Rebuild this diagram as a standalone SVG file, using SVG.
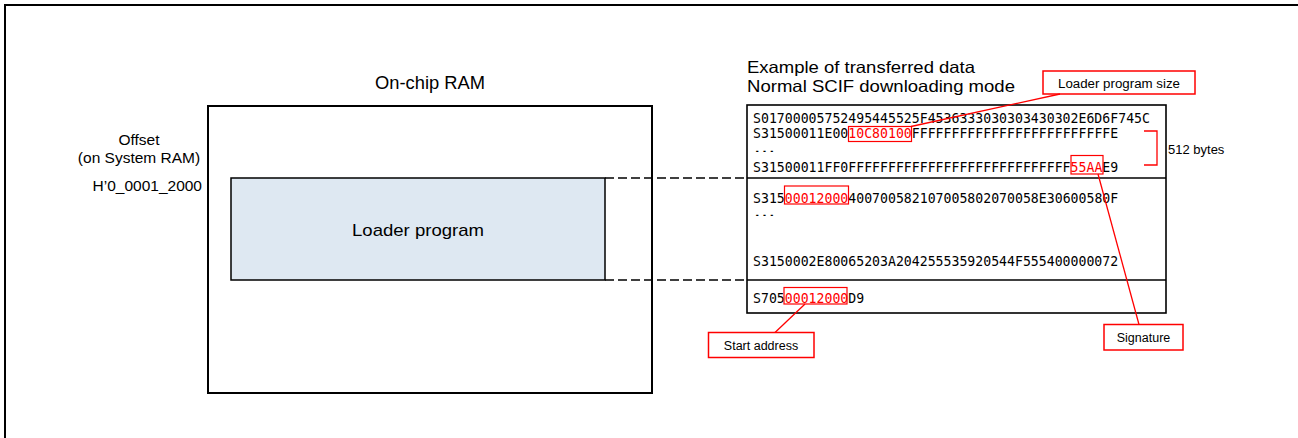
<svg xmlns="http://www.w3.org/2000/svg" width="1298" height="438" viewBox="0 0 1298 438">
<style>
.lbl{font-family:"Liberation Sans",Arial,sans-serif;fill:#000}
.mono{font-family:"DejaVu Sans Mono","Liberation Mono",monospace;font-size:13.2px;fill:#000}
.red{fill:#FF0000}
.rbox{fill:none;stroke:#FF0000;stroke-width:1.2}
.cbox{fill:#fff;stroke:#FF0000;stroke-width:1.5}
.lead{stroke:#FF0000;stroke-width:1.3;fill:none}
.dash{stroke:#000;stroke-width:1.3;stroke-dasharray:9 4;fill:none}
</style>
<rect width="1298" height="438" fill="#fff"/>
<path d="M5,438 V5 H1298" fill="none" stroke="#000" stroke-width="2"/>

<g id="ram">
<text class="lbl" x="430" y="89" font-size="17.5" text-anchor="middle" textLength="110" lengthAdjust="spacingAndGlyphs">On-chip RAM</text>
<rect x="208" y="106" width="444" height="287" fill="#fff" stroke="#000" stroke-width="2"/>
</g>

<g id="offset">
<text class="lbl" x="139" y="145" font-size="15.5" text-anchor="middle">Offset</text>
<text class="lbl" x="139" y="163" font-size="15.5" text-anchor="middle">(on System RAM)</text>
<text class="lbl" x="202" y="191" font-size="15.5" text-anchor="end">H’0_0001_2000</text>
</g>

<g id="loader">
<rect x="231" y="178" width="374" height="102" fill="#DEE8F2" stroke="#000" stroke-width="1.5"/>
<text class="lbl" x="418" y="236" font-size="17" text-anchor="middle" textLength="132" lengthAdjust="spacingAndGlyphs">Loader program</text>
</g>

<g id="title">
<text class="lbl" x="747" y="73" font-size="16.5" textLength="228" lengthAdjust="spacingAndGlyphs">Example of transferred data</text>
<text class="lbl" x="747" y="92" font-size="16.5" textLength="268" lengthAdjust="spacingAndGlyphs">Normal SCIF downloading mode</text>
</g>

<g id="data">
<rect x="747" y="105" width="419" height="208" fill="#fff" stroke="#000" stroke-width="1.6"/>
<line x1="747" y1="178" x2="1166" y2="178" stroke="#000" stroke-width="1.6"/>
<line x1="747" y1="280" x2="1166" y2="280" stroke="#000" stroke-width="1.6"/>

<g transform="translate(753,123) scale(1,1.12)"><text class="mono" x="0" y="0">S01700005752495445525F4536333030303430302E6D6F745C</text></g>
<g transform="translate(753,138) scale(1,1.12)"><text class="mono" x="0" y="0">S31500011E00<tspan class="red">10C80100</tspan>FFFFFFFFFFFFFFFFFFFFFFFFFE</text></g>
<rect class="rbox" x="848.5" y="126.5" width="63" height="15"/>
<text class="lbl" x="753" y="152" font-size="11" textLength="23" lengthAdjust="spacingAndGlyphs">…</text>
<g transform="translate(753,171.5) scale(1,1.12)"><text class="mono" x="0" y="0">S31500011FF0FFFFFFFFFFFFFFFFFFFFFFFFFFFF<tspan class="red">55AA</tspan>E9</text></g>
<rect class="rbox" x="1071" y="155.5" width="32" height="18.5"/>

<g transform="translate(753,203) scale(1,1.12)"><text class="mono" x="0" y="0">S315<tspan class="red">00012000</tspan>400700582107005802070058E30600580F</text></g>
<rect class="rbox" x="784.5" y="186" width="64" height="18"/>
<text class="lbl" x="753" y="216" font-size="11" textLength="23" lengthAdjust="spacingAndGlyphs">…</text>
<g transform="translate(753,266) scale(1,1.12)"><text class="mono" x="0" y="0">S3150002E80065203A204255535920544F555400000072</text></g>

<g transform="translate(753,303) scale(1,1.12)"><text class="mono" x="0" y="0">S705<tspan class="red">00012000</tspan>D9</text></g>
<rect class="rbox" x="784" y="287.5" width="63" height="16.5"/>
</g>

<g id="bytes512">
<path class="lead" d="M1144,131 H1157 V165 H1144"/>
<text class="lbl" x="1168" y="154" font-size="13">512 bytes</text>
</g>

<g id="callout-size">
<rect class="cbox" x="1043" y="71" width="152" height="23"/>
<text class="lbl" x="1119" y="87.5" font-size="12.5" text-anchor="middle" textLength="122" lengthAdjust="spacingAndGlyphs">Loader program size</text>
</g>

<g id="callout-signature">
<rect class="cbox" x="1104" y="324.5" width="79" height="25.5"/>
<text class="lbl" x="1143.5" y="342" font-size="12.5" text-anchor="middle">Signature</text>
</g>

<g id="callout-start">
<rect class="cbox" x="708.5" y="332.5" width="105.5" height="25"/>
<text class="lbl" x="761" y="350" font-size="12.5" text-anchor="middle">Start address</text>
</g>

<g id="connectors">
<line class="dash" x1="605" y1="178" x2="747" y2="178"/>
<line class="dash" x1="605" y1="280" x2="747" y2="280"/>
<line class="lead" x1="1060" y1="94" x2="911" y2="126.5"/>
<line class="lead" x1="1098" y1="174" x2="1139" y2="324.5"/>
<line class="lead" x1="805" y1="304" x2="775" y2="332.5"/>
</g>
</svg>
